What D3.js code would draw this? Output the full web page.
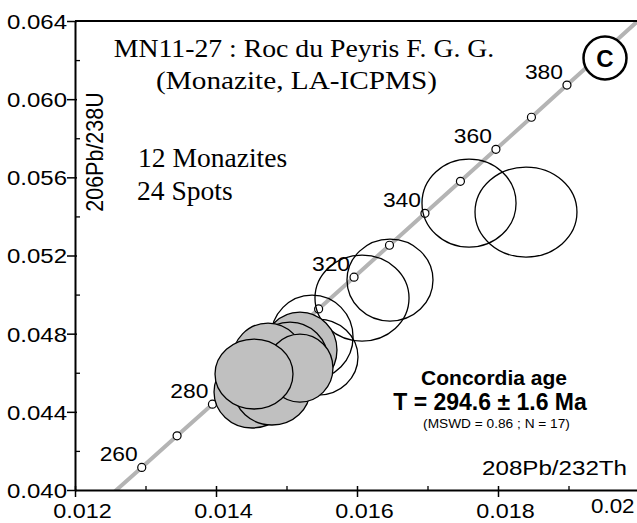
<!DOCTYPE html>
<html><head><meta charset="utf-8">
<script src="https://cdn.jsdelivr.net/npm/d3@7"></script>
<style>html,body{margin:0;padding:0;background:#fff;}svg{display:block;}</style>
</head><body>
<script>
// ---- data ----
// Concordia (Th-U) age markers (Ma) and their ratios
const concAges = [250, 260, 270, 280, 290, 300, 310, 320, 330, 340, 350, 360, 370, 380, 390, 400];
const concX = [0.0124456, 0.0129466, 0.0134479, 0.0139494, 0.0144512, 0.0149532, 0.0154555, 0.0159580, 0.0164608, 0.0169638, 0.0174670, 0.0179706, 0.0184743, 0.0189783, 0.0194826, 0.0199871];
const concY = [0.0395431, 0.0411569, 0.0427733, 0.0443921, 0.0460134, 0.0476374, 0.0492637, 0.0508926, 0.0525240, 0.0541580, 0.0557944, 0.0574339, 0.0590754, 0.0607196, 0.0623663, 0.0640156];
const markerAges = [260, 270, 280, 290, 300, 310, 320, 330, 340, 350, 360, 370, 380];
const labelAges = [260, 280, 320, 340, 360, 380];

// Open (excluded) ellipses: centre x, centre y, half-width x, half-height y
const openX  = [0.017589, 0.018397, 0.016468, 0.016071, 0.015362, 0.015447];
const openY  = [0.054680, 0.054220, 0.050742, 0.049821, 0.047826, 0.046803];
const openSX = [0.000667, 0.000723, 0.000610, 0.000667, 0.000582, 0.000567];
const openSY = [0.002251, 0.002302, 0.002097, 0.002199, 0.002148, 0.001944];

// Grey (used in concordia age) ellipses
const greyX  = [0.014511, 0.014794, 0.015191, 0.015050, 0.014738, 0.015191, 0.014539];
const greyY  = [0.045013, 0.045115, 0.047161, 0.046650, 0.046650, 0.046240, 0.045934];
const greySX = [0.000539, 0.000539, 0.000525, 0.000539, 0.000511, 0.000468, 0.000553];
const greySY = [0.001841, 0.001790, 0.001944, 0.001944, 0.001893, 0.001739, 0.001790];

const xMajor = [0.012, 0.014, 0.016, 0.018];
const xMinor = [0.013, 0.015, 0.017, 0.019];
const yMajor = [0.040, 0.044, 0.048, 0.052, 0.056, 0.060, 0.064];
const yMinor = [0.042, 0.046, 0.050, 0.054, 0.058, 0.062];

const W = 637, H = 523;
const svg = d3.select('body').append('svg').attr('width', W).attr('height', H);

const x = d3.scaleLinear().domain([0.012, 0.020]).range([75, 639]);
const y = d3.scaleLinear().domain([0.040, 0.064]).range([490, 21]);

const SANS = "'Liberation Sans', Arial, Helvetica, sans-serif";
const SERIF = "'Liberation Serif', 'Times New Roman', serif";

function stext(px, py, str, o) {
  return svg.append('text')
    .attr('transform', `translate(${px},${py}) scale(${o.sx || 1},1)`)
    .attr('text-anchor', o.anchor || 'start')
    .attr('font-family', o.family || SANS)
    .attr('font-size', o.size)
    .attr('font-weight', o.weight || 'normal')
    .attr('fill', '#000')
    .text(str);
}

// clip for plot area
svg.append('clipPath').attr('id', 'plotclip').append('rect')
  .attr('x', x(0.012)).attr('y', y(0.064)).attr('width', W - x(0.012)).attr('height', y(0.040) - y(0.064));

const plot = svg.append('g').attr('clip-path', 'url(#plotclip)');

// concordia curve
const concPts = concAges.map((a, i) => [concX[i], concY[i]]);
plot.append('path')
  .attr('d', d3.line().x(d => x(d[0])).y(d => y(d[1])).curve(d3.curveMonotoneX)(concPts))
  .attr('fill', 'none').attr('stroke', '#b4b4b4').attr('stroke-width', 4);

// age markers
const markers = markerAges.map(a => { const i = concAges.indexOf(a); return {a, x: concX[i], y: concY[i]}; });
plot.selectAll('circle.mk').data(markers).join('circle').attr('class', 'mk')
  .attr('cx', d => x(d.x)).attr('cy', d => y(d.y)).attr('r', 4)
  .attr('fill', '#fff').attr('stroke', '#000').attr('stroke-width', 1.2);

// open ellipses
const openData = openX.map((v, i) => ({x: v, y: openY[i], sx: openSX[i], sy: openSY[i]}));
plot.selectAll('ellipse.open').data(openData).join('ellipse').attr('class', 'open')
  .attr('cx', d => x(d.x)).attr('cy', d => y(d.y))
  .attr('rx', d => x(d.x + d.sx) - x(d.x)).attr('ry', d => y(d.y) - y(d.y + d.sy))
  .attr('fill', 'none').attr('stroke', '#000').attr('stroke-width', 1.3);

// grey ellipses
const greyData = greyX.map((v, i) => ({x: v, y: greyY[i], sx: greySX[i], sy: greySY[i]}));
plot.selectAll('ellipse.grey').data(greyData).join('ellipse').attr('class', 'grey')
  .attr('cx', d => x(d.x)).attr('cy', d => y(d.y))
  .attr('rx', d => x(d.x + d.sx) - x(d.x)).attr('ry', d => y(d.y) - y(d.y + d.sy))
  .attr('fill', '#c0c0c0').attr('stroke', '#000').attr('stroke-width', 1.3);

// age labels
labelAges.forEach(a => {
  const i = concAges.indexOf(a);
  stext(x(concX[i]) - 4, y(concY[i]) - 6, String(a), {size: 19.5, sx: 1.17, anchor: 'end'});
});

// ---- axes ----
const fmt = d3.format('.3f');
const SX = 1.17;
const yAxis = svg.append('g').attr('transform', `translate(${x(0.012)},0)`)
  .call(d3.axisLeft(y).tickValues(yMajor).tickSize(8).tickSizeOuter(0).tickPadding(0).tickFormat(fmt));
yAxis.select('.domain').attr('stroke-width', 2);
yAxis.selectAll('.tick line').attr('x1', 2).attr('stroke-width', 1.5);
yAxis.selectAll('.tick text').attr('font-family', SANS).attr('font-size', 20.5)
  .attr('x', 0).attr('transform', `translate(-8,0) scale(${SX},1)`).attr('dy', '0.36em');

const yMin = svg.append('g').attr('transform', `translate(${x(0.012)},0)`)
  .call(d3.axisRight(y).tickValues(yMinor).tickSize(5).tickFormat(''));
yMin.select('.domain').remove();
yMin.selectAll('.tick line').attr('stroke-width', 1.3);

const xAxis = svg.append('g').attr('transform', `translate(0,${y(0.040)})`)
  .call(d3.axisBottom(x).tickValues(xMajor).tickSize(7).tickSizeOuter(0).tickFormat(fmt));
xAxis.select('.domain').attr('stroke-width', 2);
xAxis.selectAll('.tick line').attr('y1', -4).attr('stroke-width', 1.5);
xAxis.selectAll('.tick text').attr('font-family', SANS).attr('font-size', 20)
  .attr('y', 0).attr('dy', 0).attr('transform', `translate(7,28) scale(${SX},1)`);

const xMin = svg.append('g').attr('transform', `translate(0,${y(0.040)})`)
  .call(d3.axisTop(x).tickValues(xMinor).tickSize(4).tickFormat(''));
xMin.select('.domain').remove();
xMin.selectAll('.tick line').attr('stroke-width', 1.3);

// 0.02 label at the right edge
stext(x(0.020) - 48, y(0.040) + 23, '0.02', {size: 20, sx: 1.12});

// top frame line
svg.append('line').attr('x1', x(0.012)).attr('x2', W).attr('y1', y(0.064)).attr('y2', y(0.064))
  .attr('stroke', '#000').attr('stroke-width', 2);

// axis titles
svg.append('text').attr('transform', 'translate(103,152) rotate(-90) scale(1,1.1)')
  .attr('text-anchor', 'middle').attr('font-family', SANS).attr('font-size', 21.5).text('206Pb/238U');
stext(627, 475, '208Pb/232Th', {size: 21, sx: 1.15, anchor: 'end'});

// title block
stext(304, 57, 'MN11-27 : Roc du Peyris F. G. G.', {size: 25, sx: 1.11, anchor: 'middle', family: SERIF});
stext(296.5, 89, '(Monazite, LA-ICPMS)', {size: 25, sx: 1.17, anchor: 'middle', family: SERIF});
stext(138, 167, '12 Monazites', {size: 27, sx: 1.02, family: SERIF});
stext(137, 199.5, '24 Spots', {size: 27, sx: 1.02, family: SERIF});

// concordia age text
stext(494, 385, 'Concordia age', {size: 21, weight: 'bold', anchor: 'middle'});
stext(490, 410, 'T = 294.6 ± 1.6 Ma', {size: 23, weight: 'bold', anchor: 'middle'});
stext(496.5, 428, '(MSWD = 0.86 ; N = 17)', {size: 13.7, anchor: 'middle'});

// panel label C
svg.append('circle').attr('cx', 605).attr('cy', 58).attr('r', 21.5)
  .attr('fill', '#fff').attr('stroke', '#000').attr('stroke-width', 2.5);
stext(605, 66.5, 'C', {size: 24, weight: 'bold', anchor: 'middle'});
</script>
</body></html>
